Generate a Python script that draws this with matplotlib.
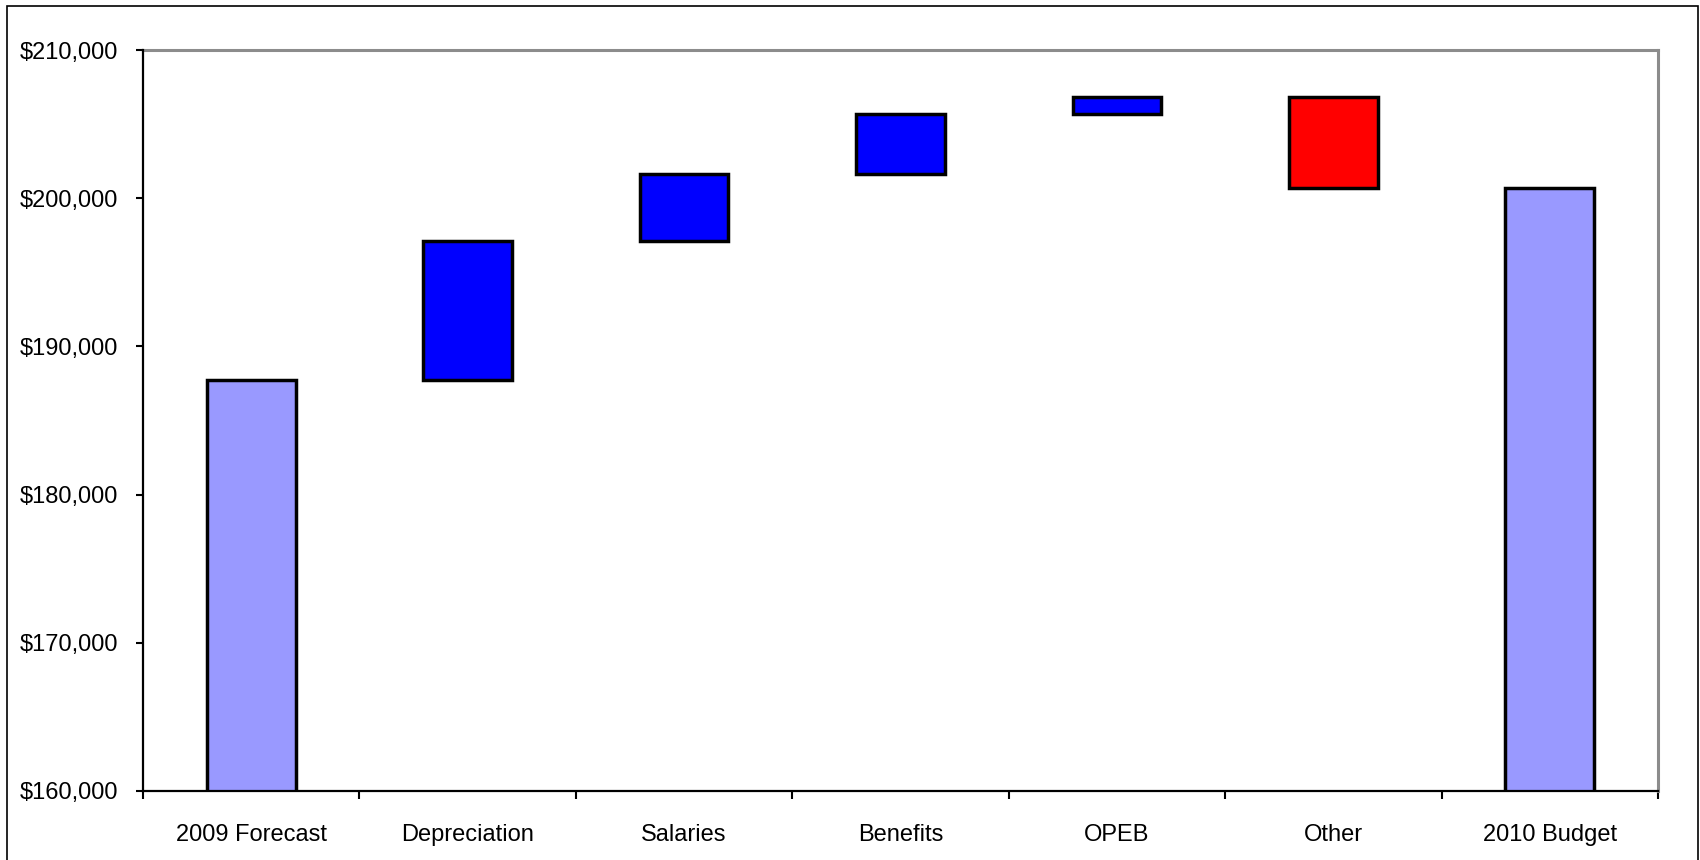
import matplotlib.pyplot as plt
import matplotlib.ticker as mticker
from matplotlib.patches import Rectangle
import numpy as np

plt.rcParams['font.family'] = ['Liberation Sans', 'DejaVu Sans']

categories = ['2009 Forecast', 'Depreciation', 'Salaries', 'Benefits', 'OPEB', 'Other', '2010 Budget']
forecast_2009 = 187700
changes = [9400, 4500, 4100, 1100, -6100]
budget_2010 = 200700

total_color = '#9999FF'
up_color = '#0000FF'
down_color = '#FF0000'

# build the floating bars of the waterfall
running = np.cumsum([forecast_2009] + changes)
bottoms = [0]
heights = [forecast_2009]
colors = [total_color]
for i, c in enumerate(changes):
    lo = min(running[i], running[i + 1])
    bottoms.append(lo)
    heights.append(abs(c))
    colors.append(up_color if c > 0 else down_color)
bottoms.append(0)
heights.append(budget_2010)
colors.append(total_color)

fig = plt.figure(figsize=(17, 8.6), dpi=100)
ax = fig.add_axes([143 / 1700, 1 - 791 / 860, (1658 - 143) / 1700, (791 - 50) / 860])

x = np.arange(len(categories))
ax.bar(x, heights, bottom=bottoms, width=0.41, color=colors,
       edgecolor='black', linewidth=2.5, zorder=3)

ax.set_ylim(160000, 210000)
ax.set_xlim(-0.5, len(categories) - 0.5)
ax.yaxis.set_major_locator(mticker.MultipleLocator(10000))
ax.yaxis.set_major_formatter(mticker.FuncFormatter(lambda v, p: '${:,.0f}'.format(v)))

ax.set_xticks(x)
ax.set_xticklabels(categories, fontsize=17)
ax.set_xticks(np.arange(-0.5, len(categories), 1), minor=True)
ax.tick_params(axis='x', which='major', length=0, pad=24)
ax.tick_params(axis='x', which='minor', length=6, width=1.5, direction='out')
ax.tick_params(axis='y', length=5, width=1.5, direction='out', pad=13, labelsize=17)

for s in ['top', 'right']:
    ax.spines[s].set_color('#8c8c8c')
    ax.spines[s].set_linewidth(2.2)
for s in ['left', 'bottom']:
    ax.spines[s].set_color('black')
    ax.spines[s].set_linewidth(1.6)
    ax.spines[s].set_zorder(4)

# outer chart frame
fig.patches.append(Rectangle((7 / 1700, -0.02), (1698 - 7) / 1700, 1 - 6 / 860 + 0.02,
                             transform=fig.transFigure, fill=False,
                             edgecolor='black', linewidth=1.2))

fig.savefig('out.png', dpi=100)
